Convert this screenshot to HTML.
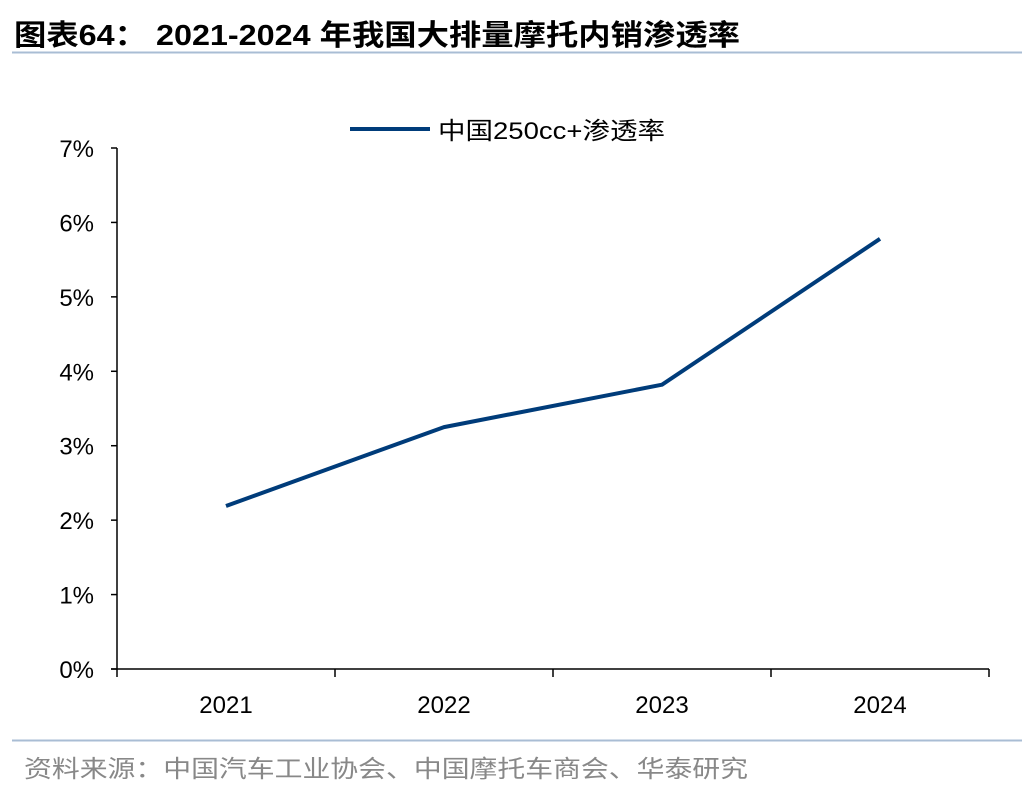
<!DOCTYPE html>
<html><head><meta charset="utf-8"><style>
body{margin:0;background:#fff;}
svg text{font-family:"Liberation Sans","Noto Sans CJK SC",sans-serif;}
</style></head><body>
<svg width="1036" height="792" xmlns="http://www.w3.org/2000/svg" id="chart">
<text x="14" y="45" font-size="29" font-weight="bold" fill="#000" textLength="726" lengthAdjust="spacingAndGlyphs">图表64：  2021-2024 年我国大排量摩托内销渗透率</text>
<line x1="12" y1="52.5" x2="1022" y2="52.5" stroke="#a9bdd4" stroke-width="2"/>
<line x1="350" y1="129" x2="430" y2="129" stroke="#003c7a" stroke-width="4"/>
<text x="438" y="139" font-size="24" fill="#000" textLength="227" lengthAdjust="spacingAndGlyphs">中国250cc+渗透率</text>
<g id="axes"></g>
<line x1="12" y1="740.5" x2="1022" y2="740.5" stroke="#a9bdd4" stroke-width="2"/>
<text x="24" y="777" font-size="24" fill="#888" textLength="724" lengthAdjust="spacingAndGlyphs">资料来源：中国汽车工业协会、中国摩托车商会、华泰研究</text>
</svg>
<script>
const categories=["2021","2022","2023","2024"];
const values=[2.19,3.25,3.82,5.78];
const yTicks=[0,1,2,3,4,5,6,7];
const NS="http://www.w3.org/2000/svg";
const g=document.getElementById("axes");
const x0=117,x1=989,yb=669,yt=148,ymax=7;
const step=(x1-x0)/categories.length;
const X=i=>x0+step*(i+0.5);
const Y=v=>yb-(v/ymax)*(yb-yt);
function mk(t,a){const e=document.createElementNS(NS,t);for(const k in a)e.setAttribute(k,a[k]);g.appendChild(e);return e;}
let ax=mk("line",{x1:x0,y1:yt,x2:x0,y2:yb,stroke:"#000","stroke-width":1.5});


let bx=mk("line",{x1:x0-6,y1:yb,x2:x1,y2:yb,stroke:"#000","stroke-width":1.5});


yTicks.forEach(v=>{
 const tk=mk("line",{x1:x0-6,y1:Y(v),x2:x0,y2:Y(v),stroke:"#000","stroke-width":1.5});
 
 
 const t=mk("text",{x:x0-23,y:Y(v)+9,"font-size":24,"text-anchor":"end",fill:"#000"});
 t.textContent=v+"%";
 
 
});
for(let i=0;i<=categories.length;i++){
 const tk=mk("line",{x1:x0+step*i,y1:yb,x2:x0+step*i,y2:yb+8,stroke:"#000","stroke-width":1.5});
 
 
}
categories.forEach((c,i)=>{
 const t=mk("text",{x:X(i),y:713,"font-size":24,"text-anchor":"middle",fill:"#000"});
 t.textContent=c;
 
 
});
const pl=mk("polyline",{points:values.map((v,i)=>X(i)+","+Y(v)).join(" "),fill:"none",stroke:"#003c7a","stroke-width":4,"stroke-linejoin":"round"});


</script>
</body></html>
